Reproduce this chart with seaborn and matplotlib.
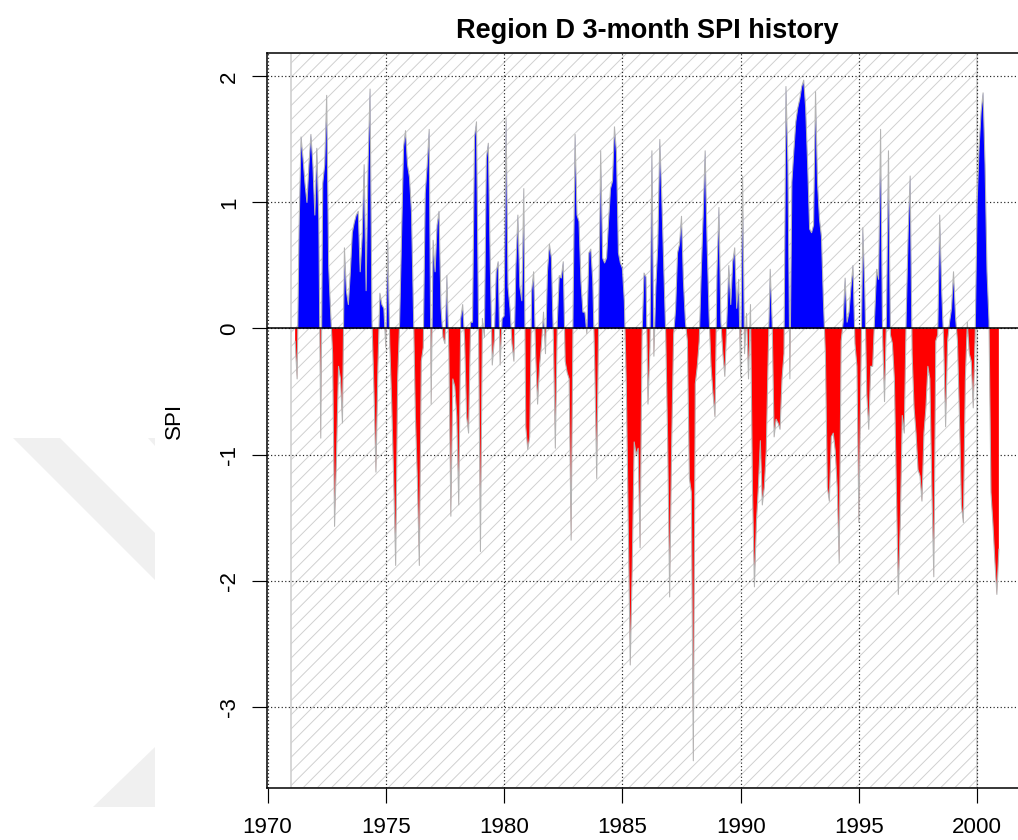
import numpy as np
import pandas as pd
import matplotlib
matplotlib.use("Agg")
import matplotlib.pyplot as plt
import seaborn as sns
from matplotlib.patches import Polygon

# ---------------- data ----------------
title = "Region D 3-month SPI history"
y_label = "SPI"
start_year = 1971
start_month = 3          # first 3-month SPI value: March 1971
ref_start, ref_end = 1971, 2000   # hatched reference period
x_ticks = [1970, 1975, 1980, 1985, 1990, 1995, 2000]
y_ticks = [-3, -2, -1, 0, 1, 2]

spi_1971_1976 = [
    -0.1, -0.4, 0.8, 1.52, 1.35, 1.15, 1.0, 1.3, 1.54, 1.3,
    0.9, 1.43, 0.87, -0.87, 1.15, 1.3, 1.85, 0.5, 0.13, -0.2,
    -1.57, -1.0, -0.3, -0.4, -0.75, 0.64, 0.3, 0.19, 0.45, 0.76,
    0.84, 0.9, 0.93, 0.45, 0.73, 1.3, 0.3, 1.3, 1.9, 0.05,
    -0.5, -1.14, -0.3, 0.28, 0.19, 0.16, -0.15, 0.7, -0.12, -0.6,
    -1.2, -1.88, -0.4, 0.05, 0.73, 1.44, 1.57, 1.3, 1.2, 0.93,
    0.16, -0.69, -1.2, -1.88, -0.26, -0.15, 1.07, 1.3, 1.58,
]
spi_1976_1982 = [
    -0.6, 0.7, 0.45, 0.82, 0.93, 0.16, -0.07, -0.12, 0.42, -0.2,
    -1.49, -0.4, -0.46, -0.7, -1.4, 0.08, 0.19, -0.1, -0.7, -0.83,
    0.05, 0.05, 1.52, 1.64, 0.08, -1.77, 0.08, -0.07, 1.35, 1.47,
    0.5, -0.29, -0.1, 0.45, 0.53, -0.29, 0.08, 0.1, 1.67, 0.33,
    0.16, -0.12, -0.26, 0.5, 0.9, 0.33, 0.22, 1.11, -0.78, -0.96,
    -0.86, 0.3, 0.45, -0.2, -0.6, -0.3, -0.12, 0.13, -0.2, 0.45,
    0.67, 0.56, -0.07, -0.95, 0.05, 0.42, 0.4, 0.53, -0.26, -0.35,
    -0.4, -1.68,
]
spi_1982_1988 = [
    0.15, 1.54, 0.9, 0.85, 0.37, 0.13, 0.13, -0.04, 0.6, 0.63,
    0.37, -0.3, -1.19, 0.1, 1.41, 0.56, 0.52, 0.56, 0.85, 1.11,
    1.17, 1.6, 1.4, 0.6, 0.52, 0.48, 0.22, -0.44, -1.56, -2.67,
    -1.9, -0.9, -1.0, -0.95, -1.74, -0.05, 0.44, 0.41, -0.6, -0.15,
    1.41, -0.22, 0.33, 0.67, 1.5, 1.04, 0.48, -0.05, -0.9, -2.13,
    -0.93, -0.05, 0.15, 0.6, 0.67, 0.89, 0.37, 0.05, -0.1, -1.19,
    -1.3, -3.43, -0.44, -0.3, -0.1, 0.44, 0.9, 1.41, 0.67, 0.1,
    -0.3, -0.52, -0.7,
]
spi_1988_1994 = [
    0.45, 0.96, 0.05, -0.2, -0.38, 0.05, 0.5, 0.19, 0.53, 0.64,
    0.16, 0.39, -0.38, 1.21, -0.2, 0.12, -0.4, 0.19, -1.26, -2.05,
    -1.54, -1.26, -0.89, -1.4, -1.26, -0.97, -0.2, 0.47, 0.05, -0.86,
    -0.72, -0.75, -0.8, -0.4, -0.2, 1.92, 1.3, -0.4, 1.16, 1.41,
    1.64, 1.75, 1.82, 1.92, 1.97, 1.75, 1.3, 0.79, 0.76, 0.82,
    1.88, 1.16, 0.87, 0.73, 0.22, -0.2, -1.26, -1.37, -0.86, -0.83,
    -0.97, -1.26, -1.86, -0.1, 0.05, 0.4, 0.05, 0.13, 0.33, 0.5,
    -0.12, -0.3, -1.54,
]
spi_1995_2000 = [
    -0.4, 0.8, 0.3, -0.52, -0.8, -0.3, -0.3, 0.1, 0.47, 0.39,
    1.58, -0.05, -0.58, 0.1, 1.41, -0.05, -0.12, -0.4, -1.26, -2.11,
    -1.54, -0.69, -0.83, 0.1, 0.76, 1.21, -0.2, -0.63, -0.83, -1.12,
    -1.17, -1.37, -0.83, -0.63, -0.3, -0.4, -1.26, -1.97, -0.1, -0.05,
    0.9, 0.3, -0.1, -0.78, -0.1, 0.05, 0.16, 0.45, 0.1, -0.1,
    -0.69, -1.4, -1.54, -0.4, 0.05, -0.2, -0.26, -0.63, -0.05, 1.01,
    1.44, 1.72, 1.87, 1.3, 0.45, 0.06, -1.3, -1.55, -1.85, -2.11,
    -1.75,
]

spi = np.array(spi_1971_1976 + spi_1976_1982 + spi_1982_1988
               + spi_1988_1994 + spi_1995_2000)
time = start_year + (start_month - 1) / 12 + np.arange(len(spi)) / 12
df = pd.DataFrame({"time": time, "SPI": spi})

# ---------------- style ----------------
sns.set_theme(style="white")
plt.rcParams["font.family"] = ["Liberation Sans", "DejaVu Sans"]
plt.rcParams["hatch.linewidth"] = 0.8

W, H, DPI = 1018, 840, 85
fig = plt.figure(figsize=(W / DPI, H / DPI), dpi=DPI)
fig.patch.set_facecolor("white")

# faint watermark shapes in the left margin of the source page
def px2fig(pts):
    return [(x / W, 1 - y / H) for x, y in pts]

for shape in ([(13, 438), (60, 438), (155, 533), (155, 580)],
              [(148, 438), (155, 438), (155, 446)],
              [(155, 747), (93, 807), (155, 807)]):
    fig.add_artist(Polygon(px2fig(shape), closed=True, transform=fig.transFigure,
                           facecolor="#f0f0f0", edgecolor="none", zorder=0))

ax = fig.add_axes([267 / W, (H - 788) / H, (1027 - 267) / W, (788 - 53) / H])
ax.set_facecolor("white")

# R-like 4% padding of the data range
tr = time.max() - time.min()
vr = spi.max() - spi.min()
ax.set_xlim(time.min() - 0.04 * tr, time.max() + 0.04 * tr)
ax.set_ylim(spi.min() - 0.04 * vr, spi.max() + 0.04 * vr)

# hatched reference period
ax.axvspan(ref_start, ref_end, facecolor="none", edgecolor="#cfcfcf",
           hatch="//", linewidth=1.4, zorder=0.5)

# grid
ax.set_xticks(x_ticks)
ax.set_yticks(y_ticks)
ax.grid(True, color="#222222", linestyle=(0, (1, 2.0)), linewidth=1.0, zorder=1)

# positive / negative fills
ax.fill_between(time, spi, 0, where=spi >= 0, interpolate=True,
                color="#0000ff", linewidth=0, zorder=2)
ax.fill_between(time, spi, 0, where=spi <= 0, interpolate=True,
                color="#ff0000", linewidth=0, zorder=2)

# the SPI series line
sns.lineplot(data=df, x="time", y="SPI", color="#b4b4b4", linewidth=0.9,
             errorbar=None, ax=ax, zorder=3)

ax.axhline(0, color="black", linewidth=1.3, zorder=4)

# axes decoration
for side in ["left", "top", "bottom"]:
    ax.spines[side].set_color("black")
    ax.spines[side].set_linewidth(1.3)
ax.spines["right"].set_visible(False)

ax.tick_params(axis="both", which="major", direction="out", length=12.7,
               width=1.0, color="black", labelsize=19, labelcolor="black",
               bottom=True, left=True)
ax.tick_params(axis="x", pad=12.0)
ax.tick_params(axis="y", pad=10.0, labelrotation=90)
ax.set_yticklabels([str(v) for v in y_ticks])
ax.set_xticklabels([str(v) for v in x_ticks])
for lab in ax.get_yticklabels():
    lab.set_verticalalignment("center")

ax.set_xlabel("")
ax.set_ylabel(y_label, fontsize=19, color="black")
ax.yaxis.set_label_coords(-0.108, 0.5)

ax.set_title(title, fontsize=23, fontweight="bold", color="black", pad=12.5)

fig.savefig("out.png", dpi=DPI, facecolor="white")
